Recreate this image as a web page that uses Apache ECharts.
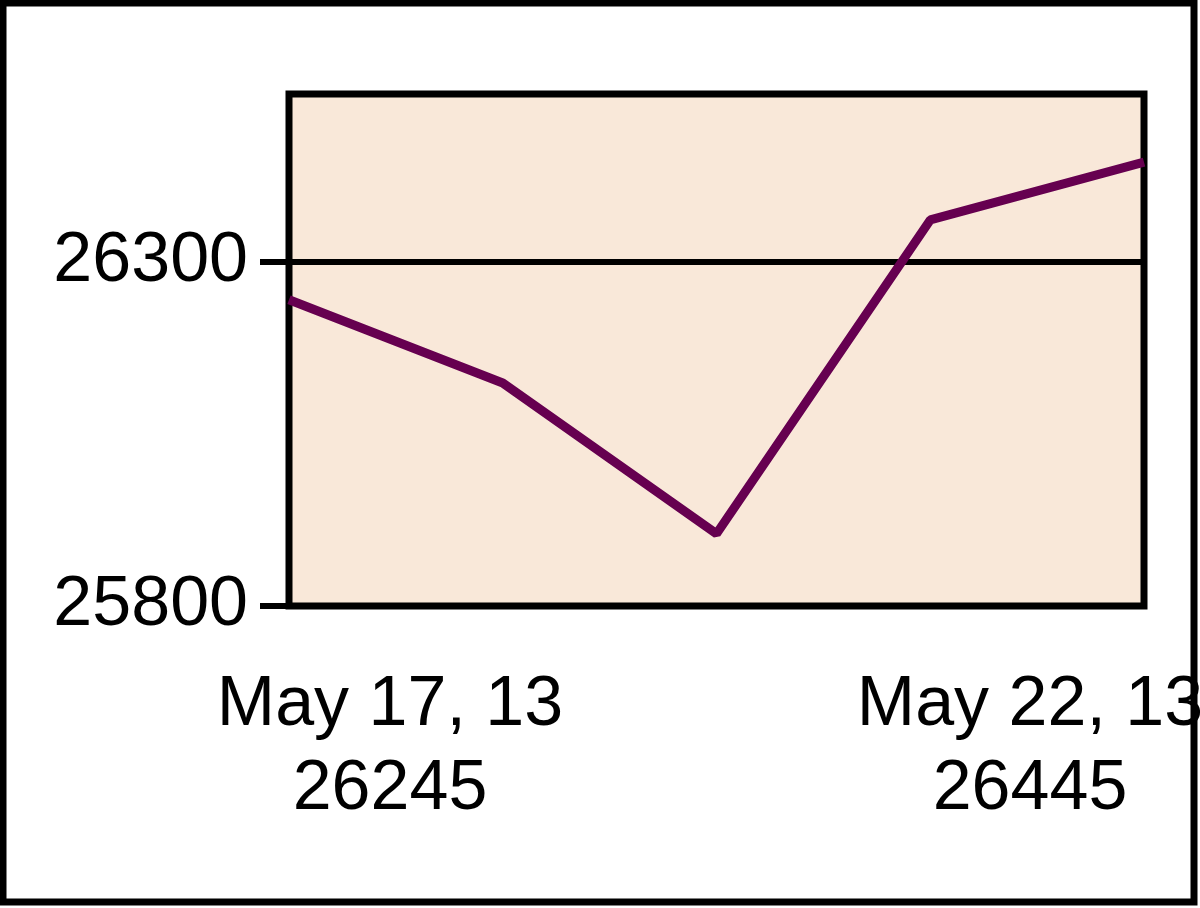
<!DOCTYPE html>
<html>
<head>
<meta charset="utf-8">
<script src="https://cdn.jsdelivr.net/npm/echarts@6/dist/echarts.min.js"></script>
<style>
html,body{margin:0;padding:0;background:#fff;}
#chart{width:1200px;height:908px;}
</style>
</head>
<body>
<div id="chart"></div>
<script>
const categories = ['May 17, 13', 'May 20, 13', 'May 21, 13', 'May 21, 13 ', 'May 22, 13'];
const values = [26245, 26124, 25905, 26361, 26445];
const yTicks = [25800, 26300];
const yMin = 25800;
const yMax = 26544;

const FONT = '"Liberation Sans", Arial, sans-serif';
const FS = 70;
const chart = echarts.init(document.getElementById('chart'));
const lastIdx = categories.length - 1;

chart.setOption({
  animation: false,
  backgroundColor: '#ffffff',
  grid: {
    left: 289, top: 94, right: 56, bottom: 302,
    outerBoundsMode: 'none',
    containLabel: false,
    show: true, backgroundColor: '#F9E8D9', borderColor: '#000000', borderWidth: 7
  },
  xAxis: {
    type: 'category',
    data: categories,
    boundaryGap: false,
    axisLine: { show: false },
    axisTick: { show: false },
    splitLine: { show: false },
    axisLabel: {
      interval: 0,
      margin: 58,
      color: '#000',
      fontFamily: FONT,
      fontSize: FS,
      lineHeight: 84,
      formatter: function (v, i) {
        if (i === 0) return '{l|' + v + '}\n{l|' + values[0] + '}';
        if (i === lastIdx) return '{r|' + v.trim() + '}\n{r|' + values[lastIdx] + '}';
        return '';
      },
      rich: {
        l: { fontFamily: FONT, fontSize: FS, lineHeight: 84, color: '#000', padding: [0, 0, 0, 202] },
        r: { fontFamily: FONT, fontSize: FS, lineHeight: 84, color: '#000', padding: [0, 228, 0, 0] }
      }
    }
  },
  yAxis: {
    type: 'value',
    min: yMin,
    max: yMax,
    interval: 500,
    axisLine: { show: false },
    axisTick: { show: true, length: 29, lineStyle: { color: '#000', width: 6 }, customValues: yTicks },
    splitLine: { show: true, lineStyle: { color: '#000', width: 6 } },
    axisLabel: {
      color: '#000', fontFamily: FONT, fontSize: FS, margin: 41,
      customValues: yTicks,
      formatter: function (v) { return String(v); }
    }
  },
  series: [{
    type: 'line',
    data: values,
    showSymbol: false,
    lineStyle: { color: '#660050', width: 9 },
    z: 3
  }],
  graphic: [{
    type: 'rect',
    z: 100,
    shape: { x: 3, y: 3, width: 1191, height: 899 },
    style: { fill: 'none', stroke: '#000', lineWidth: 7 }
  }]
});
</script>
</body>
</html>
